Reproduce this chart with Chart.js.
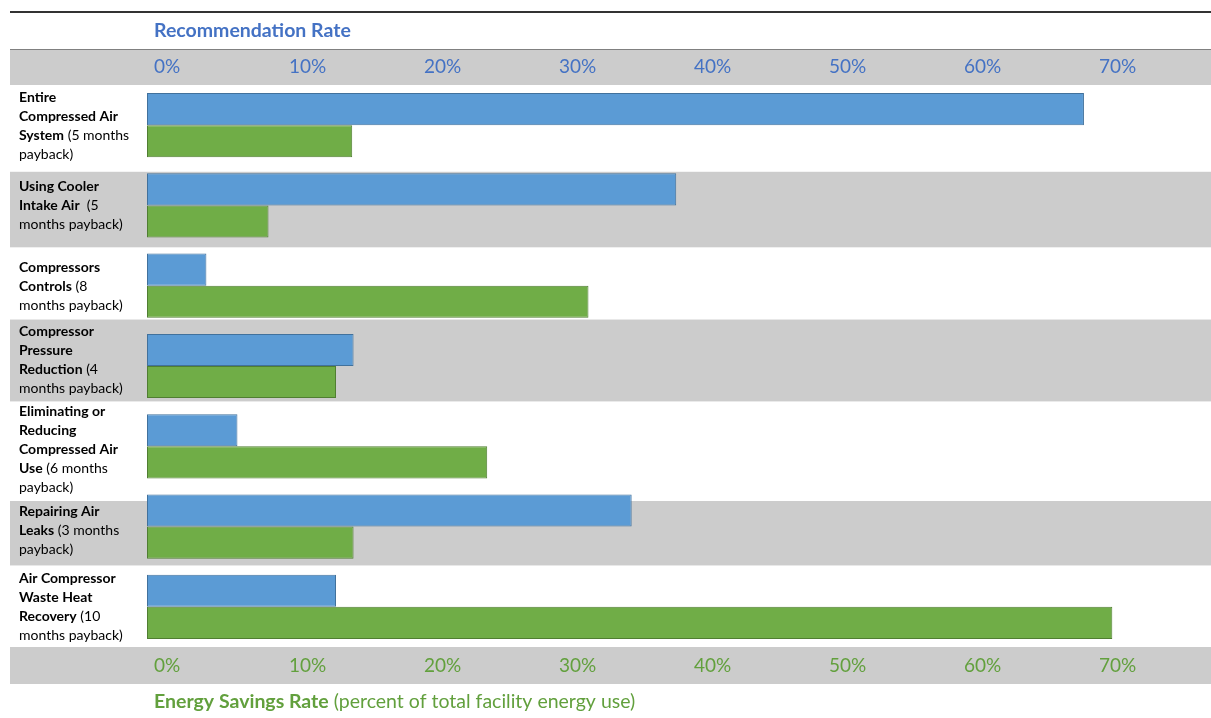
<!DOCTYPE html>
<html>
<head>
<meta charset="utf-8">
<script src="https://cdn.jsdelivr.net/npm/chart.js@4/dist/chart.umd.min.js"></script>
<style>
  html, body { margin: 0; padding: 0; background: #ffffff; }
  #wrap { width: 1211px; height: 718px; }
</style>
</head>
<body>
<div id="wrap"><canvas id="c" width="1211" height="718"></canvas></div>
<script>
// ---- data ----
const categories = [
  "Entire Compressed Air System (5 months payback)",
  "Using Cooler Intake Air  (5 months payback)",
  "Compressors Controls (8 months payback)",
  "Compressor Pressure Reduction (4 months payback)",
  "Eliminating or Reducing Compressed Air Use (6 months payback)",
  "Repairing Air Leaks (3 months payback)",
  "Air Compressor Waste Heat Recovery (10 months payback)"
];
const categoryLines = [
  ["Entire", "Compressed Air", "System (5 months", "payback)"],
  ["Using Cooler", "Intake Air  (5", "months payback)"],
  ["Compressors", "Controls (8", "months payback)"],
  ["Compressor", "Pressure", "Reduction (4", "months payback)"],
  ["Eliminating or", "Reducing", "Compressed Air", "Use (6 months", "payback)"],
  ["Repairing Air", "Leaks (3 months", "payback)"],
  ["Air Compressor", "Waste Heat", "Recovery (10", "months payback)"]
];
const boldParts = [
  "Entire Compressed Air System",
  "Using Cooler Intake Air",
  "Compressors Controls",
  "Compressor Pressure Reduction",
  "Eliminating or Reducing Compressed Air Use",
  "Repairing Air Leaks",
  "Air Compressor Waste Heat Recovery"
];
const recommendationRate = [69.4, 39.2, 4.4, 15.3, 6.7, 35.9, 14.0];
const energySavingsRate  = [15.2, 9.0, 32.7, 14.0, 25.2, 15.3, 71.5];
const topTitle = "Recommendation Rate";
const bottomTitleBold = "Energy Savings Rate";
const bottomTitleNormal = " (percent of total facility energy use)";

// ---- style ----
const FONT = "Lato, 'Open Sans', sans-serif";
const BLUE = '#5B9BD5', BLUE_EDGE = '#41719C', BLUE_TEXT = '#4472C4';
const GREEN = '#70AD47', GREEN_EDGE = '#507E32', GREEN_TEXT = '#62A03D';
const BAND = '#CCCCCC';
const AXIS_MAX = 78.81;
const LABEL_FS = 14, LABEL_LH = 19, LABEL_GAP = 10;

// label blocks centred on each category, nudged apart where they would collide
function labelExtents(chart) {
  const y = chart.scales.y;
  const ca = chart.chartArea;
  const ext = categoryLines.map((lines, i) => {
    const yc = y.getPixelForValue(i);
    const half = (lines.length - 1) * LABEL_LH / 2;
    return { yc, up: half + LABEL_FS * 0.36, down: half + LABEL_FS * 0.61 };
  });
  for (let pass = 0; pass < 30; pass++) {
    for (let i = 1; i < ext.length; i++) {
      const gap = (ext[i].yc - ext[i].up) - (ext[i - 1].yc + ext[i - 1].down);
      if (gap < LABEL_GAP) {
        const d = (LABEL_GAP - gap) / 2;
        ext[i - 1].yc -= d;
        ext[i].yc += d;
      }
    }
    ext[0].yc = Math.max(ext[0].yc, ca.top + ext[0].up + 4);
    const last = ext[ext.length - 1];
    last.yc = Math.min(last.yc, ca.bottom - last.down - 2);
  }
  ext.forEach(e => { e.top = e.yc - e.up; e.bottom = e.yc + e.down; });
  return ext;
}

const decor = {
  id: 'decor',
  beforeDraw(chart) {
    const { ctx, chartArea: ca } = chart;
    const L = 10, R = chart.width;
    const ext = labelExtents(chart);
    const bounds = [ca.top];
    for (let i = 1; i < ext.length; i++) bounds.push((ext[i - 1].bottom + ext[i].top) / 2);
    bounds.push(ca.bottom);
    ctx.save();
    ctx.fillStyle = '#ffffff';
    ctx.fillRect(0, 0, chart.width, chart.height);
    ctx.fillStyle = BAND;
    ctx.fillRect(L, ca.top - 36, R - L, 36);
    ctx.fillRect(L, ca.bottom, R - L, 37);
    categories.forEach((c, i) => {
      if (i % 2 === 1) ctx.fillRect(L, bounds[i], R - L, bounds[i + 1] - bounds[i]);
    });
    ctx.fillStyle = '#333333';
    ctx.fillRect(L, 11, R - L, 2);
    ctx.fillStyle = '#808080';
    ctx.fillRect(L, ca.top - 36, R - L, 1);
    ctx.restore();
  },
  afterDraw(chart) {
    const { ctx } = chart;
    const ext = labelExtents(chart);
    ctx.save();
    ctx.textBaseline = 'alphabetic';
    ctx.textAlign = 'left';
    categoryLines.forEach((lines, i) => {
      const boldLen = boldParts[i].length;
      let offset = 0;
      const first = ext[i].yc - (lines.length - 1) * LABEL_LH / 2 + LABEL_FS * 0.36;
      lines.forEach((text, k) => {
        const bl = Math.max(0, Math.min(text.length, boldLen - offset));
        const b = text.slice(0, bl), r = text.slice(bl);
        let x = 19;
        const yy = first + k * LABEL_LH;
        ctx.fillStyle = '#000000';
        if (b) { ctx.font = `bold ${LABEL_FS}px ${FONT}`; ctx.fillText(b, x, yy); x += ctx.measureText(b).width; }
        if (r) { ctx.font = `${LABEL_FS}px ${FONT}`; ctx.fillText(r, x, yy); }
        offset += text.length + 1;
      });
    });
    ctx.fillStyle = BLUE_TEXT;
    ctx.font = `bold 19.5px ${FONT}`;
    ctx.fillText(topTitle, 154, 37);
    ctx.fillStyle = GREEN_TEXT;
    ctx.font = `bold 19.5px ${FONT}`;
    ctx.fillText(bottomTitleBold, 154, 708);
    const w = ctx.measureText(bottomTitleBold).width;
    ctx.font = `19.5px ${FONT}`;
    ctx.fillText(bottomTitleNormal, 154 + w, 708);
    ctx.restore();
  }
};

const xCommon = (pos, color, height, pad) => ({
  type: 'linear',
  position: pos,
  min: 0,
  max: AXIS_MAX,
  grid: { display: false, drawTicks: false },
  border: { display: false },
  ticks: {
    stepSize: 10,
    includeBounds: false,
    align: 'start',
    labelOffset: 7,
    padding: pad,
    color: color,
    font: { family: FONT, size: 19 },
    callback: v => v + '%'
  },
  afterFit: s => { s.height = height; }
});

new Chart(document.getElementById('c'), {
  type: 'bar',
  data: {
    labels: categories,
    datasets: [
      { label: 'Recommendation Rate', data: recommendationRate, xAxisID: 'x', backgroundColor: BLUE, borderColor: BLUE_EDGE, borderWidth: 1, borderSkipped: false },
      { label: 'Energy Savings Rate', data: energySavingsRate, xAxisID: 'x', backgroundColor: GREEN, borderColor: GREEN_EDGE, borderWidth: 1, borderSkipped: false }
    ]
  },
  options: {
    indexAxis: 'y',
    responsive: false,
    animation: false,
    layout: { padding: 0 },
    datasets: { bar: { categoryPercentage: 0.8, barPercentage: 1.0 } },
    plugins: { legend: { display: false }, tooltip: { enabled: false } },
    scales: {
      x: xCommon('bottom', GREEN_TEXT, 71, 7),
      x2: xCommon('top', BLUE_TEXT, 85, 7),
      y: {
        type: 'category',
        position: 'left',
        grid: { display: false, drawTicks: false },
        border: { display: false },
        ticks: { display: false },
        afterFit: s => { s.width = 147; }
      }
    }
  },
  plugins: [decor]
});
</script>
</body>
</html>
